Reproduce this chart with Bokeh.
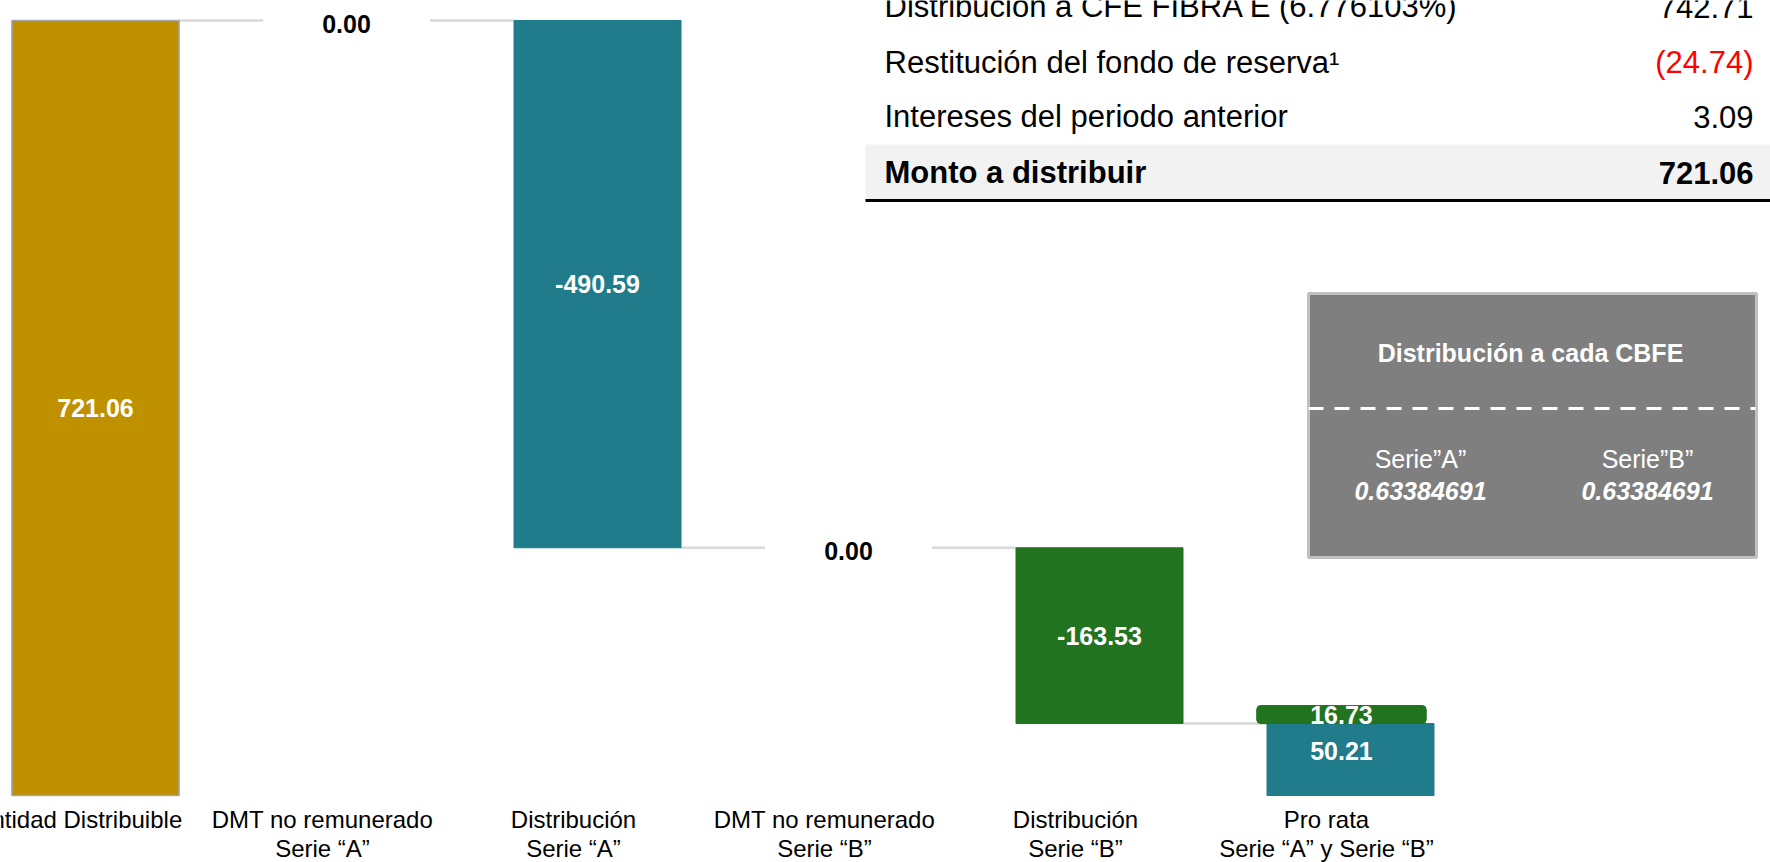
from bokeh.plotting import figure
from bokeh.models import Range1d, ColumnDataSource
from bokeh.embed import file_html
from bokeh.resources import INLINE
from bokeh.core.properties import value
from bokeh.transform import dodge

# ---------------- data ----------------
categories = [
    "Cantidad Distribuible",
    "DMT no remunerado\nSerie “A”",
    "Distribución\nSerie “A”",
    "DMT no remunerado\nSerie “B”",
    "Distribución\nSerie “B”",
    "Pro rata\nSerie “A” y Serie “B”",
]
steps = [721.06, 0.00, -490.59, 0.00, -163.53]
prorata_a = 50.21
prorata_b = 16.73

table_rows = [
    "Distribución a CFE FIBRA E (6.776103%)",
    "Restitución del fondo de reserva¹",
    "Intereses del periodo anterior",
]
table_vals = ["742.71", "(24.74)", "3.09"]
table_val_colors = ["black", "#ff0000", "black"]
total_label = "Monto a distribuir"
total_value = "721.06"

cbfe_title = "Distribución a cada CBFE"
cbfe_series = ["Serie”A”", "Serie”B”"]
cbfe_values = ["0.63384691", "0.63384691"]

step_colors = ["#BF9000", "#FFFFFF", "#207B8A", "#FFFFFF", "#22731F"]
step_text_colors = ["white", "black", "white", "black", "white"]

# ---------------- layout helpers (canvas pixels -> data units) ----------------
W, H = 1770, 862
BASE_PX = 795.0
TOP_PX = 20.0
K = (BASE_PX - TOP_PX) / steps[0]
X0_PX = 95.0
STEP_PX = 251.0
BAR_W = 167.0 / STEP_PX
PR_SHIFT = -0.036


def vx(px):
    return (px - X0_PX) / STEP_PX


def vy(py):
    return (BASE_PX - py) / K


FONT = value("Liberation Sans")

p = figure(
    width=W, height=H,
    x_range=Range1d(vx(0), vx(W)), y_range=Range1d(vy(H), vy(0)),
    x_axis_type=None, y_axis_type=None,
    toolbar_location=None, output_backend="svg",
    min_border=0, outline_line_color=None,
)
p.grid.visible = False
p.background_fill_color = "white"
p.border_fill_color = "white"

# ---------------- waterfall ----------------
xs, bottoms, tops, levels = [], [], [], []
cum = 0.0
for i, s in enumerate(steps):
    start = cum
    cum = cum + s
    xs.append(i)
    bottoms.append(min(start, cum))
    tops.append(max(start, cum))
    levels.append(cum)

# connectors
n = len(categories)
cx0 = [i + BAR_W / 2 for i in range(n - 1)]
cx1 = [i + 1 - BAR_W / 2 for i in range(n - 1)]
p.segment(x0=cx0, x1=cx1, y0=levels, y1=levels, line_color="#d9d9d9", line_width=2.5)

bars = ColumnDataSource(dict(x=xs, bottom=bottoms, top=tops, color=step_colors))
p.vbar(x="x", bottom="bottom", top="top", width=BAR_W, fill_color="color",
       line_color="color", source=bars)
# gold outline
p.vbar(x=[0], bottom=[0], top=[steps[0]], width=BAR_W, fill_color=None,
       line_color="#a6a6a6", line_width=1.5)

# step labels
lab_y, lab_off = [], []
for i, s in enumerate(steps):
    if s == 0:
        lab_y.append(levels[i])
        lab_off.append(3)
    else:
        lab_y.append((bottoms[i] + tops[i]) / 2)
        lab_off.append(0)
lab = ColumnDataSource(dict(x=xs, y=lab_y, t=[f"{s:.2f}" for s in steps],
                            c=step_text_colors, off=lab_off))
p.text(x="x", y="y", text="t", text_color="c", y_offset="off", source=lab,
       text_font=FONT, text_font_style="bold", text_font_size="25px",
       text_align="center", text_baseline="middle")

# pro rata stacked bar
pr = n - 1
pr_top = prorata_a + prorata_b
p.vbar(x=[pr], bottom=[0], top=[pr_top], width=BAR_W, fill_color="#207B8A",
       line_color="#207B8A")
prb = ColumnDataSource(dict(x=[pr], bottom=[pr_top], top=[pr_top + prorata_b]))
p.vbar(x=dodge("x", PR_SHIFT, range=p.x_range), bottom="bottom", top="top",
       width=BAR_W + 0.01, fill_color="#22731F", line_color="#22731F",
       border_radius=4, source=prb)
p.text(x=[pr + PR_SHIFT], y=[pr_top + prorata_b / 2], text=[f"{prorata_b:.2f}"],
       text_color="white", text_font=FONT, text_font_style="bold",
       text_font_size="25px", text_align="center", text_baseline="middle")
p.text(x=[pr + PR_SHIFT], y=[pr_top / 2], y_offset=-9, text=[f"{prorata_a:.2f}"],
       text_color="white", text_font=FONT, text_font_style="bold",
       text_font_size="25px", text_align="center", text_baseline="middle")

# category labels
p.text(x=list(range(n)), y=vy(805), x_offset=-24, text=categories,
       text_color="black", text_font=FONT, text_font_size="24px",
       text_align="center", text_baseline="top", text_line_height=1.1)

# ---------------- table (top right) ----------------
p.quad(left=vx(865), right=vx(W), top=vy(144), bottom=vy(199),
       fill_color="#f2f2f2", line_color=None)
p.segment(x0=vx(865), x1=vx(W), y0=vy(200), y1=vy(200),
          line_color="black", line_width=3)
row_py = [6, 62, 116]
p.text(x=vx(884), y=[vy(v) for v in row_py], text=table_rows,
       text_color="black", text_font=FONT, text_font_size="31px",
       text_align="left", text_baseline="middle")
p.text(x=vx(1753), y=[vy(v) for v in row_py], text=table_vals,
       text_color=table_val_colors, text_font=FONT, text_font_size="31px",
       text_align="right", text_baseline="middle")
p.text(x=vx(884), y=vy(172), text=[total_label], text_color="black",
       text_font=FONT, text_font_style="bold", text_font_size="31px",
       text_align="left", text_baseline="middle")
p.text(x=vx(1753), y=vy(172), text=[total_value], text_color="black",
       text_font=FONT, text_font_style="bold", text_font_size="31px",
       text_align="right", text_baseline="middle")

# ---------------- CBFE box ----------------
p.quad(left=vx(1308), right=vx(1756), top=vy(293), bottom=vy(557),
       fill_color="#7f7f7f", line_color="#c0c0c0", line_width=3)
p.segment(x0=vx(1308), x1=vx(1755), y0=vy(408), y1=vy(408),
          line_color="white", line_width=3, line_dash="15 11")
p.text(x=vx(1530), y=vy(352), text=[cbfe_title], text_color="white",
       text_font=FONT, text_font_style="bold", text_font_size="25px",
       text_align="center", text_baseline="middle")
box_x = [vx(1420), vx(1647)]
p.text(x=box_x, y=vy(458), text=cbfe_series, text_color="white",
       text_font=FONT, text_font_size="25px",
       text_align="center", text_baseline="middle")
p.text(x=box_x, y=vy(490), text=cbfe_values, text_color="white",
       text_font=FONT, text_font_style="bold italic", text_font_size="25px",
       text_align="center", text_baseline="middle")

open("out.html", "w").write(file_html(p, INLINE))
